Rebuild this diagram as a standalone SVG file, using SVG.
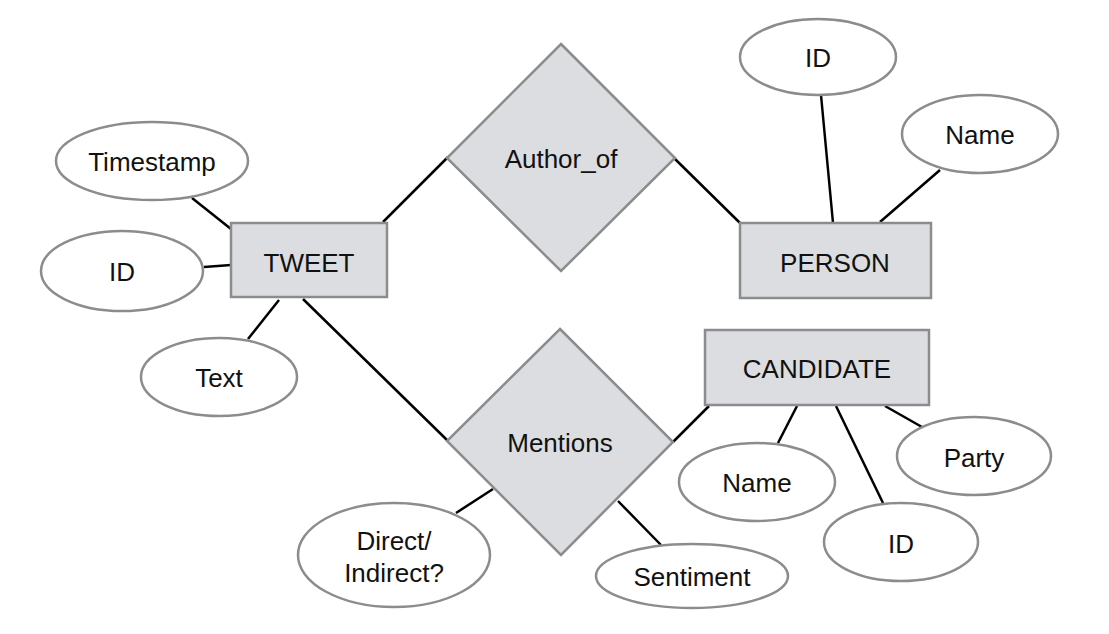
<svg xmlns="http://www.w3.org/2000/svg" width="1109" height="634" viewBox="0 0 1109 634">
<style>
.ent{fill:#dcdde0;stroke:#8b8c8e;stroke-width:2.5}
.rel{fill:#dcdde0;stroke:#8b8c8e;stroke-width:2.5}
.att{fill:#ffffff;stroke:#8b8c8e;stroke-width:2.5}
.lbl{font-family:"Liberation Sans",Arial,sans-serif;font-size:26px;fill:#111;text-anchor:middle}
.con line{stroke:#000;stroke-width:2.5}
</style>
<rect width="1109" height="634" fill="#fff"/>
<g id="connectors" class="con">
<line x1="192" y1="198" x2="231" y2="229"/>
<line x1="204" y1="267" x2="231" y2="265"/>
<line x1="248" y1="339" x2="279" y2="300"/>
<line x1="383" y1="222" x2="448" y2="157"/>
<line x1="303" y1="299" x2="448" y2="441"/>
<line x1="675" y1="159" x2="740" y2="223"/>
<line x1="821" y1="95" x2="833" y2="223"/>
<line x1="940" y1="170" x2="880" y2="222"/>
<line x1="493" y1="489" x2="456" y2="513"/>
<line x1="618" y1="501" x2="661" y2="545"/>
<line x1="673" y1="442" x2="709" y2="406"/>
<line x1="797" y1="406" x2="778" y2="443"/>
<line x1="836" y1="406" x2="883" y2="503"/>
<line x1="885" y1="406" x2="922" y2="427"/>
</g>
<g id="tweet"><rect class="ent" x="231" y="223" width="156" height="74"/><text class="lbl" x="309" y="272">TWEET</text></g>
<g id="tweet-timestamp"><ellipse class="att" cx="152" cy="161" rx="96" ry="39"/><text class="lbl" x="152" y="171">Timestamp</text></g>
<g id="tweet-id"><ellipse class="att" cx="122" cy="271" rx="81" ry="40"/><text class="lbl" x="122" y="281">ID</text></g>
<g id="tweet-text"><ellipse class="att" cx="219" cy="377" rx="78" ry="39"/><text class="lbl" x="219" y="387">Text</text></g>
<g id="author_of"><polygon class="rel" points="561,44 675,158 561,271 447,158"/><text class="lbl" x="561" y="168">Author_of</text></g>
<g id="person"><rect class="ent" x="740" y="223" width="191" height="75"/><text class="lbl" x="835" y="272">PERSON</text></g>
<g id="person-id"><ellipse class="att" cx="818" cy="57" rx="78" ry="38"/><text class="lbl" x="818" y="67">ID</text></g>
<g id="person-name"><ellipse class="att" cx="980" cy="134" rx="78" ry="39"/><text class="lbl" x="980" y="144">Name</text></g>
<g id="mentions"><polygon class="rel" points="560,329 673,442 561,555 447,441"/><text class="lbl" x="560" y="452">Mentions</text></g>
<g id="mentions-direct"><ellipse class="att" cx="394" cy="555" rx="96" ry="52"/><text class="lbl" x="394" y="550">Direct/</text><text class="lbl" x="394" y="582">Indirect?</text></g>
<g id="mentions-sentiment"><ellipse class="att" cx="692" cy="576" rx="96" ry="32"/><text class="lbl" x="692" y="586">Sentiment</text></g>
<g id="candidate"><rect class="ent" x="705" y="330" width="224" height="75"/><text class="lbl" x="817" y="378">CANDIDATE</text></g>
<g id="candidate-name"><ellipse class="att" cx="757" cy="482" rx="78" ry="39"/><text class="lbl" x="757" y="492">Name</text></g>
<g id="candidate-id"><ellipse class="att" cx="901" cy="542" rx="77" ry="39"/><text class="lbl" x="901" y="553">ID</text></g>
<g id="candidate-party"><ellipse class="att" cx="974" cy="456" rx="77" ry="39"/><text class="lbl" x="974" y="467">Party</text></g>
</svg>
